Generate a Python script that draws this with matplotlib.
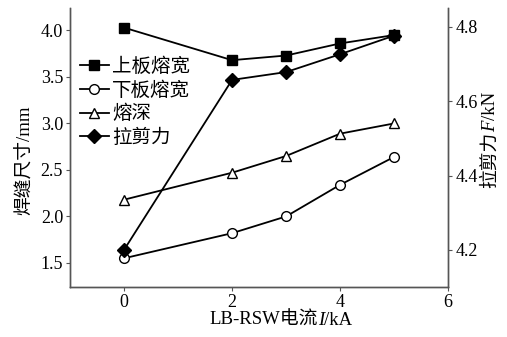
import matplotlib.pyplot as plt
from matplotlib.transforms import offset_copy

plt.rcParams['font.family'] = ['Liberation Serif', 'Noto Sans CJK SC']

# data
current = [0, 2, 3, 4, 5]
upper_width = [4.03, 3.68, 3.73, 3.86, 3.95]
lower_width = [1.55, 1.82, 2.00, 2.34, 2.64]
depth = [2.18, 2.47, 2.65, 2.89, 3.00]
shear_force = [4.20, 4.657, 4.678, 4.726, 4.776]


def rich_text(fig, pieces, x, y, rotation=0, size=13.5):
    # draw a label made of pieces with different styles, centred on (x, y)
    r = fig.canvas.get_renderer()
    texts = [fig.text(x, y, s, style=st, rotation=rotation, rotation_mode='anchor',
                      ha='left', va='baseline', fontsize=size) for s, st in pieces]
    ext = [t.get_window_extent(r) for t in texts]
    sizes = [e.width if rotation == 0 else e.height for e in ext]
    off = -sum(sizes) / 2
    for t, s in zip(texts, sizes):
        if rotation == 0:
            t.set_transform(offset_copy(fig.transFigure, fig=fig, x=off, y=0, units='dots'))
        else:
            t.set_transform(offset_copy(fig.transFigure, fig=fig, x=0, y=off, units='dots'))
        off += s


fig, ax1 = plt.subplots(figsize=(5.07, 3.37), dpi=100)
fig.subplots_adjust(left=0.138, right=0.884, top=0.976, bottom=0.148)

kw = dict(color='black', lw=1.3, ms=7, mec='black')
l1, = ax1.plot(current, upper_width, marker='s', mfc='black', label='上板熔宽', **kw)
l2, = ax1.plot(current, lower_width, marker='o', mfc='white', label='下板熔宽', **kw)
l3, = ax1.plot(current, depth, marker='^', mfc='white', label='熔深', **kw)

ax2 = ax1.twinx()
l4, = ax2.plot(current, shear_force, marker='D', mfc='black', label='拉剪力', **kw)

ax1.set_xlim(-1, 6)
ax1.set_ylim(1.24, 4.24)
ax2.set_ylim(4.10, 4.85)
ax1.set_xticks([0, 2, 4, 6])
ax1.set_yticks([1.5, 2.0, 2.5, 3.0, 3.5, 4.0])
ax2.set_yticks([4.2, 4.4, 4.6, 4.8])
ax1.yaxis.set_major_formatter(plt.FormatStrFormatter('%.1f'))
ax2.yaxis.set_major_formatter(plt.FormatStrFormatter('%.1f'))

for ax in (ax1, ax2):
    ax.spines['top'].set_visible(False)
    for s in ax.spines.values():
        s.set_color('#555555')
        s.set_linewidth(1.0)
    ax.tick_params(direction='out', length=3, width=0.8, colors='#555555',
                   labelcolor='black', labelsize=13, pad=2)

ax1.set_ylabel('焊缝尺寸/mm', fontsize=13.5)
ax1.yaxis.set_label_coords(-0.098, 0.455)

ax2.legend(handles=[l1, l2, l3, l4], loc='upper left', bbox_to_anchor=(-0.005, 0.866),
           frameon=False, fontsize=14, handlelength=1.5, handletextpad=0.15,
           labelspacing=0.28, borderaxespad=0.2)

fig.canvas.draw()
rich_text(fig, [('LB-RSW电流', 'normal'), ('I', 'italic'), ('/kA', 'normal')],
          281 / 507, 1 - 325 / 337)
rich_text(fig, [('拉剪力', 'normal'), ('F', 'italic'), ('/kN', 'normal')],
          495 / 507, 1 - 140 / 337, rotation=90)

fig.savefig('out.png', dpi=100)
